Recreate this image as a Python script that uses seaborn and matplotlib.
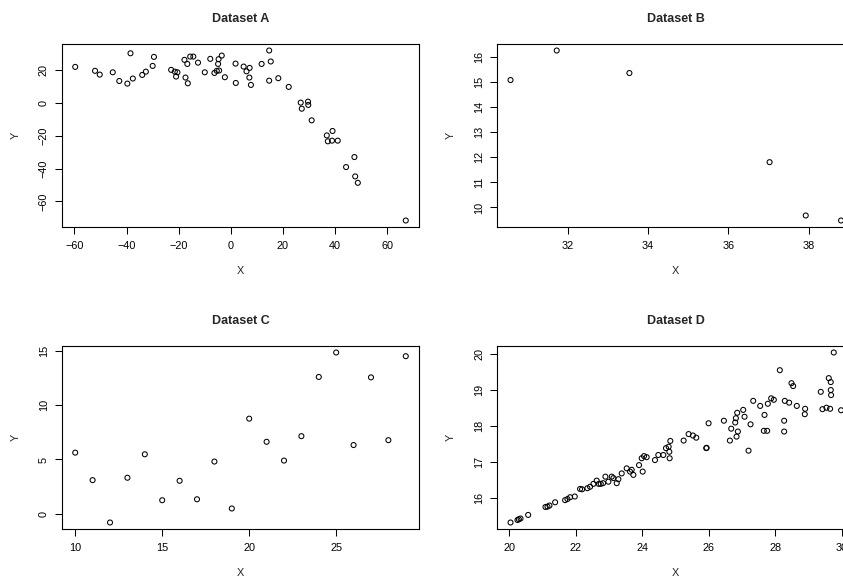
import numpy as np
import pandas as pd
import matplotlib
matplotlib.use("Agg")
import matplotlib.pyplot as plt
import seaborn as sns

sns.set_theme(style="ticks")
plt.rcParams['font.family'] = ['Liberation Sans', 'DejaVu Sans']
plt.rcParams['axes.unicode_minus'] = True

# -------------------------
# Data
# -------------------------
a_x = [-59.7, -52.1, -50.3, -45.3, -42.8, -39.7, -38.5, -37.6, -34.0, -32.6,
       -30.0, -29.5, -22.9, -21.5, -21.0, -20.5, -17.8, -17.4, -16.7, -16.5,
       -15.6, -14.4, -12.6, -10.0, -7.9, -6.3, -5.4, -4.5, -4.9, -4.7,
       -3.5, -2.3, 1.8, 1.9, 4.9, 6.0, 7.2, 7.1, 7.7, 11.8,
       14.7, 15.3, 14.7, 18.2, 22.2, 26.8, 27.2, 29.6, 29.7, 31.0,
       36.8, 37.2, 39.0, 38.8, 41.0, 44.2, 47.4, 47.7, 48.7, 67.1]
a_y = [22.0, 19.6, 17.3, 18.7, 13.4, 11.8, 30.3, 14.9, 17.1, 19.1,
       22.6, 28.1, 20.2, 19.1, 16.1, 18.7, 26.3, 15.5, 23.8, 12.0,
       28.3, 28.3, 24.6, 18.7, 26.9, 18.3, 19.6, 19.8, 23.8, 26.7,
       28.9, 15.7, 24.0, 12.2, 22.2, 19.3, 21.4, 15.5, 11.0, 23.8,
       32.0, 25.3, 13.6, 15.1, 9.8, 0.2, -3.5, 0.8, -1.2, -10.6,
       -19.8, -23.4, -17.1, -23.0, -23.0, -39.1, -33.0, -44.8, -48.7, -71.7]

b_x = [30.58, 31.73, 33.54, 37.03, 37.93, 38.81]
b_y = [15.09, 16.27, 15.37, 11.81, 9.68, 9.48]

c_x = [10, 11, 12, 13, 14, 15, 16, 17, 18, 19,
       20, 21, 22, 23, 24, 25, 26, 27, 28, 29]
c_y = [5.63, 3.10, -0.80, 3.32, 5.48, 1.25, 3.04, 1.34, 4.81, 0.49,
       8.76, 6.63, 4.90, 7.15, 12.60, 14.85, 6.33, 12.56, 6.78, 14.51]

d_x = [20.04, 20.25, 20.29, 20.34, 20.57, 21.09, 21.15, 21.21, 21.38, 21.68,
       21.75, 21.83, 21.97, 22.13, 22.19, 22.35, 22.43, 22.53, 22.63, 22.69,
       22.75, 22.82, 22.89, 22.98, 23.08, 23.13, 23.23, 23.28, 23.38, 23.53,
       23.63, 23.68, 23.73, 23.90, 23.98, 24.05, 24.13, 24.01, 24.38, 24.48,
       24.63, 24.71, 24.79, 24.81, 24.82, 24.84, 25.24, 25.39, 25.52, 25.62,
       25.92, 25.93, 25.99, 26.45, 26.63, 26.67, 26.79, 26.81, 26.83, 26.85,
       26.87, 27.03, 27.07, 27.19, 27.25, 27.33, 27.54, 27.65, 27.67, 27.75,
       27.77, 27.87, 27.95, 28.13, 28.26, 28.26, 28.28, 28.41, 28.48, 28.53,
       28.64, 28.89, 28.88, 29.36, 29.41, 29.53, 29.60, 29.66, 29.66, 29.67,
       29.64, 29.75, 29.97]
d_y = [15.32, 15.39, 15.41, 15.43, 15.53, 15.75, 15.76, 15.79, 15.88, 15.94,
       15.97, 16.02, 16.04, 16.25, 16.24, 16.27, 16.31, 16.39, 16.48, 16.39,
       16.39, 16.41, 16.59, 16.45, 16.59, 16.55, 16.41, 16.52, 16.68, 16.82,
       16.73, 16.78, 16.64, 16.91, 17.10, 17.16, 17.13, 16.73, 17.05, 17.19,
       17.19, 17.38, 17.42, 17.28, 17.10, 17.58, 17.59, 17.77, 17.73, 17.67,
       17.38, 17.39, 18.07, 18.14, 17.59, 17.92, 18.09, 18.21, 17.70, 18.36,
       17.84, 18.44, 18.25, 17.31, 18.04, 18.69, 18.55, 17.86, 18.30, 17.86,
       18.61, 18.76, 18.72, 19.54, 18.14, 17.84, 18.69, 18.64, 19.18, 19.10,
       18.55, 18.47, 18.32, 18.94, 18.46, 18.50, 19.32, 19.21, 18.99, 18.85,
       18.47, 20.03, 18.43]

titles = ["Dataset A", "Dataset B", "Dataset C", "Dataset D"]

a_xticks = [-60, -40, -20, 0, 20, 40, 60]
a_yticks = [-60, -40, -20, 0, 20]
b_xticks = [32, 34, 36, 38]
b_yticks = [10, 11, 12, 13, 14, 15, 16]
c_xticks = [10, 15, 20, 25]
c_yticks = [0, 5, 10, 15]
d_xticks = [20, 22, 24, 26, 28, 30]
d_yticks = [16, 17, 18, 19, 20]

# -------------------------
# Layout (pixels of the 843x581 canvas)
# -------------------------
W, H = 843, 581
BOX_W, BOX_H = 357, 183.6


def pad_range(vals):
    """R-style axis range: data range widened by 4% each side."""
    lo, hi = min(vals), max(vals)
    d = (hi - lo) * 0.04
    return lo - d, hi + d


def make_panel(fig, left_px, bottom_px, x, y, title, xticks, yticks):
    ax = fig.add_axes([left_px / W, (H - bottom_px) / H, BOX_W / W, BOX_H / H])
    df = pd.DataFrame({"X": x, "Y": y})
    sns.scatterplot(data=df, x="X", y="Y", ax=ax, s=13, marker="o",
                    facecolor="none", edgecolor="black", linewidth=0.75,
                    clip_on=False)
    for coll in ax.collections:
        coll.set_facecolor("none")
        coll.set_edgecolor("black")
    ax.set_xlim(*pad_range(x))
    ax.set_ylim(*pad_range(y))
    ax.set_xticks(xticks)
    ax.set_yticks(yticks)
    ax.tick_params(axis="both", direction="out", length=5, width=0.75,
                   colors="black", labelsize=7.8)
    ax.tick_params(axis="x", pad=5.2)
    ax.tick_params(axis="y", pad=4.4)
    for lab in ax.get_yticklabels():
        lab.set_rotation(90)
        lab.set_va("center")
    for sp in ax.spines.values():
        sp.set_visible(True)
        sp.set_linewidth(0.8)
        sp.set_color("black")
    ax.set_xlabel("X", fontsize=7.8)
    ax.set_ylabel("Y", fontsize=7.8)
    ax.xaxis.set_label_coords(0.5, -38.5 / BOX_H)
    ax.yaxis.set_label_coords(-41.4 / BOX_W, 0.5)
    ax.set_title(title, fontsize=9, fontweight="bold", pad=15.5)
    ax.grid(False)
    return ax


def main():
    fig = plt.figure(figsize=(W / 100, H / 100), dpi=100)
    fig.patch.set_facecolor("white")

    make_panel(fig, 62, 227.3, a_x, a_y, titles[0], a_xticks, a_yticks)
    make_panel(fig, 497.3, 227.3, b_x, b_y, titles[1], b_xticks, b_yticks)
    make_panel(fig, 62, 529.3, c_x, c_y, titles[2], c_xticks, c_yticks)
    make_panel(fig, 497.3, 529.3, d_x, d_y, titles[3], d_xticks, d_yticks)

    fig.savefig("out.png", dpi=100, facecolor="white")
    plt.close(fig)


if __name__ == "__main__":
    main()
